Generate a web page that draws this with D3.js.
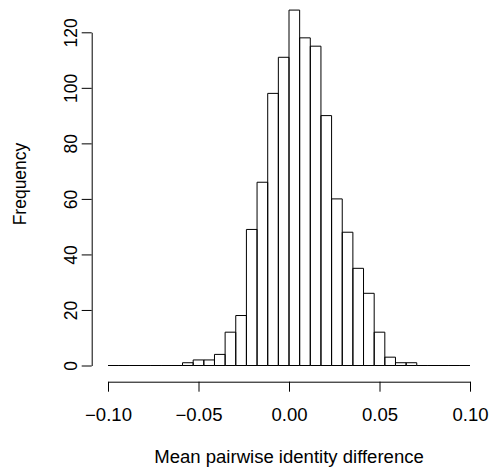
<!DOCTYPE html>
<html>
<head>
<meta charset="utf-8">
<script src="https://cdn.jsdelivr.net/npm/d3@7"></script>
<style>
  html, body { margin: 0; padding: 0; background: #fff; }
  text { font-family: "Liberation Sans", Arial, Helvetica, sans-serif; fill: #000; }
</style>
</head>
<body>
<svg id="chart" width="489" height="470"></svg>
<script>
// Histogram of mean pairwise identity differences: 34 equal bins on [-0.10, 0.10]
const binStart = -0.10;
const binEnd = 0.10;
const binCount = 34;
const counts = [
  0, 0, 0, 0, 0, 0, 0, 1, 2, 2,
  4, 12, 18, 49, 66, 98, 111, 128, 118, 115,
  90, 60, 48, 35, 26, 12, 3, 1, 1, 0,
  0, 0, 0, 0
];
const xTicks = [-0.10, -0.05, 0.00, 0.05, 0.10];
const xTickLabels = ["\u22120.10", "\u22120.05", "0.00", "0.05", "0.10"];
const yTicks = [0, 20, 40, 60, 80, 100, 120];
const xTitle = "Mean pairwise identity difference";
const yTitle = "Frequency";

const svg = d3.select("#chart");
const fontSize = 17.5;
const widen = 1.06; // horizontal text is set slightly wide

const x = d3.scaleLinear().domain([binStart, binEnd]).range([108, 470]);
const y = d3.scaleLinear().domain([0, 120]).range([365.5, 32.3]);

const binWidth = (binEnd - binStart) / binCount;
const bins = counts.map((c, i) => ({
  x0: binStart + i * binWidth,
  x1: binStart + (i + 1) * binWidth,
  count: c
}));

// Bars as closed outlines so empty bins still show as a flat line on the baseline
svg.append("g")
  .selectAll("path")
  .data(bins)
  .join("path")
  .attr("d", d => {
    const p = d3.path();
    p.moveTo(x(d.x0), y(0));
    p.lineTo(x(d.x0), y(d.count));
    p.lineTo(x(d.x1), y(d.count));
    p.lineTo(x(d.x1), y(0));
    p.closePath();
    return p.toString();
  })
  .attr("fill", "none")
  .attr("stroke", "#000")
  .attr("stroke-width", 1);

// X axis (detached below the plot)
const xAxis = d3.axisBottom(x)
  .tickValues(xTicks)
  .tickFormat((d, i) => xTickLabels[i])
  .tickSize(10)
  .tickSizeOuter(0)
  .tickPadding(0);
const gx = svg.append("g").attr("transform", "translate(0,381.7)").call(xAxis);
gx.select(".domain").attr("stroke", "#000");
gx.selectAll(".tick line").attr("stroke", "#000");
gx.selectAll(".tick text")
  .attr("y", null)
  .attr("dy", null)
  .attr("transform", `translate(0,39.3) scale(${widen},1)`)
  .attr("font-size", fontSize)
  .attr("fill", "#000");
gx.attr("font-family", null).attr("font-size", null);

// Y axis (detached left of the plot), labels rotated parallel to the axis
const yAxis = d3.axisLeft(y)
  .tickValues(yTicks)
  .tickSize(10)
  .tickSizeOuter(0)
  .tickPadding(0);
const gy = svg.append("g").attr("transform", "translate(91.7,0)").call(yAxis);
gy.select(".domain").attr("stroke", "#000");
gy.selectAll(".tick line").attr("stroke", "#000");
gy.selectAll(".tick text")
  .attr("x", null)
  .attr("dy", null)
  .attr("transform", "translate(-14.7,0) rotate(-90)")
  .attr("text-anchor", "middle")
  .attr("font-size", fontSize)
  .attr("fill", "#000");
gy.attr("font-family", null).attr("font-size", null);

// Axis titles
svg.append("text")
  .attr("transform", `translate(289,463.3) scale(${widen},1)`)
  .attr("text-anchor", "middle")
  .attr("font-size", fontSize)
  .text(xTitle);

svg.append("text")
  .attr("transform", "translate(26,184) rotate(-90)")
  .attr("text-anchor", "middle")
  .attr("font-size", fontSize)
  .text(yTitle);
</script>
</body>
</html>
